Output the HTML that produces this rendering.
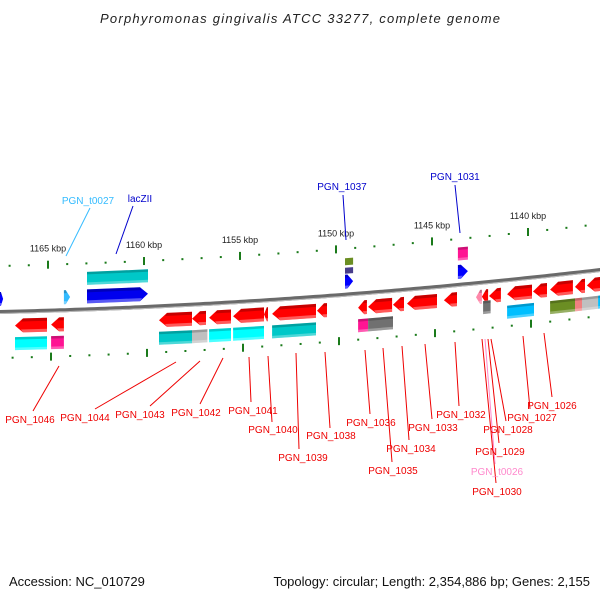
<!DOCTYPE html>
<html><head><meta charset="utf-8"><style>
html,body{margin:0;padding:0;background:#fff;}
svg{display:block;font-family:"Liberation Sans",sans-serif;}
</style></head><body>
<svg id="chart" width="600" height="600" viewBox="0 0 600 600">
<text x="300" y="23" text-anchor="middle" font-size="13" font-style="italic" fill="#222" textLength="400" lengthAdjust="spacing">Porphyromonas gingivalis ATCC 33277, complete genome</text>
<text x="9" y="586" font-size="13" fill="#111">Accession: NC_010729</text>
<text x="590" y="586" text-anchor="end" font-size="13" fill="#111">Topology: circular; Length: 2,354,886 bp; Genes: 2,155</text>
<g id="layer"></g>
</svg>
<script>
// axis ticks (kbp)
const majorTicks=[1165,1160,1155,1150,1145,1140];
const tickLabels=["1165 kbp","1160 kbp","1155 kbp","1150 kbp","1145 kbp","1140 kbp"];
// genes
const geneNames=["g_left","PGN_t0027","lacZII","PGN_1037","PGN_1031",
 "PGN_1046","PGN_1045","PGN_1044","PGN_1043","PGN_1042","PGN_1041","PGN_1040","PGN_1039","PGN_1038",
 "PGN_1036","PGN_1035","PGN_1034","PGN_1033","PGN_1032","PGN_t0026","PGN_1030","PGN_1029","PGN_1027","PGN_1026","g_r1","g_r2","g_r3"];
const geneStart=[1167.5,1164.17,1162.97,1149.53,1143.65,
 1166.72,1164.84,1159.22,1157.50,1156.61,1155.36,1153.75,1153.33,1150.99,
 1148.85,1148.33,1147.03,1146.30,1144.38,1142.71,1142.40,1142.03,1141.09,1139.74,1138.85,1137.55,1136.93];
const geneEnd=[1167.34,1163.85,1159.79,1149.11,1143.13,
 1165.05,1164.17,1157.50,1156.77,1155.47,1153.75,1153.54,1151.04,1150.47,
 1148.39,1147.08,1146.46,1144.74,1143.70,1142.40,1142.08,1141.41,1139.79,1139.01,1137.66,1137.03,1136.25];
const geneStrand=[1,1,1,1,1,-1,-1,-1,-1,-1,-1,-1,-1,-1,-1,-1,-1,-1,-1,-1,-1,-1,-1,-1,-1,-1,-1];
const geneColor=["#0000ff","#33bbff","#0000ee","#0000ff","#0000ff",
 "#ff0000","#ff0000","#ff0000","#ff0000","#ff0000","#ff0000","#ff0000","#ff0000","#ff0000",
 "#ff0000","#ff0000","#ff0000","#ff0000","#ff0000","#ff88aa","#ff0000","#ff0000","#ff0000","#ff0000","#ff0000","#ff0000","#ff0000"];
// COG boxes
const cogStart=[1162.97,1149.53,1149.53,1143.65,1166.72,1164.84,1159.22,1157.50,1156.61,1155.36,1153.33,1148.85,1148.33,1142.34,1141.09,1138.85,1137.55,1137.19,1136.35];
const cogEnd=[1159.79,1149.11,1149.11,1143.13,1165.05,1164.17,1157.50,1156.70,1155.47,1153.75,1151.04,1148.33,1147.03,1141.95,1139.69,1137.55,1137.19,1136.35,1136.0];
const cogRow=[-31,-24,-33,-31,32,32,32,32,32,32,32,32,32,25,32,32,32,32,32];
const cogH=[13,6,7,13,13,13,13,13,13,13,13,13,13,13,13,13,13,13,13];
const cogColor=["#00c8c8","#483d8b","#6b8e23","#ff1493","#00ffff","#ff1493","#00c8c8","#c0c0c0","#00ffff","#00ffff","#00c8c8","#ff1493","#707070","#707070","#00bfff","#6b8e23","#f08080","#c0c0c0","#00bfff"];
// labels
const labelText=["PGN_t0027","lacZII","PGN_1037","PGN_1031","PGN_1046","PGN_1044","PGN_1043","PGN_1042","PGN_1041","PGN_1040","PGN_1039","PGN_1038","PGN_1036","PGN_1035","PGN_1034","PGN_1033","PGN_1032","PGN_1030","PGN_t0026","PGN_1029","PGN_1028","PGN_1027","PGN_1026"];
const labelColor=["#33bbff","#0000cc","#0000cc","#0000cc","#ee0000","#ee0000","#ee0000","#ee0000","#ee0000","#ee0000","#ee0000","#ee0000","#ee0000","#ee0000","#ee0000","#ee0000","#ee0000","#ee0000","#ff88cc","#ee0000","#ee0000","#ee0000","#ee0000"];
const labelPos=[[88,204],[140,202],[342,190],[455,180],[30,423],[85,421],[140,418],[196,416],[253,414],[273,433],[303,461],[331,439],[371,426],[393,474],[411,452],[433,431],[461,418],[497,495],[497,475],[500,455],[508,433],[532,421],[552,409]];
const lineFrom=[[90,208],[133,206],[343,195],[455,185],[33,411],[95,409],[150,406],[200,404],[251,402],[272,422],[299,449],[330,428],[370,414],[392,462],[409,440],[432,419],[459,406],[496,483],[495,464],[499,443],[506,421],[530,409],[552,397]];
const lineTo=[[66,256],[116,254],[346,240],[460,233],[59,366],[176,362],[200,361],[223,358],[249,357],[268,356],[296,353],[325,352],[365,350],[383,348],[402,346],[425,344],[455,342],[482,339],[485,339],[488,339],[491,339],[523,336],[544,333]];

const NS="http://www.w3.org/2000/svg";
const layer=document.getElementById('layer');
function X(k){return 48+(1165-k)*19.2;}
function yb(x){const t=x/600;return (1-t)*(1-t)*312+2*t*(1-t)*305+t*t*270;}
function mk(tag,attrs){const e=document.createElementNS(NS,tag);for(const a in attrs)e.setAttribute(a,attrs[a]);layer.appendChild(e);return e;}
function P(x,o){return x.toFixed(1)+","+(yb(x)+o).toFixed(1);}

// backbone
let d="";for(let x=-5;x<=605;x+=5){d+=(x===-5?"M":"L")+x+","+yb(x).toFixed(1);}
let bb=mk('path',{d:d,stroke:'#6a6a6a','stroke-width':4,fill:'none'});


mk('path',{d:d,stroke:'#bbb','stroke-width':1,fill:'none',transform:'translate(0,1.5)'});

// ticks
for(let k=1136;k<=1168;k++){
  const major=majorTicks.indexOf(k)>=0;
  [[-46,0],[46,3]].forEach(([o,s])=>{
    const x=X(k)+s;if(x<2||x>598)return;
    const y=yb(x)+o;
    const t=mk('rect',{x:x-1,y:major?y-4:y-1,width:2,height:major?8:2,fill:'#1a7a1a'});
    
    
  });
}
majorTicks.forEach((k,i)=>{
  const x=X(k);
  const t=mk('text',{x:x,y:(yb(x)-59).toFixed(1),'text-anchor':'middle','font-size':9,fill:'#222'});
  t.textContent=tickLabels[i];
  
  
});

// genes
geneStart.forEach((s,i)=>{
  let x1=X(s),x2=X(geneEnd[i]);if(x1>x2){const t=x1;x1=x2;x2=t;}
  const o=geneStrand[i]>0?-13:14, h=14, top=o-h/2, bot=o+h/2;
  const hl=Math.min(8,(x2-x1)*0.7);
  let pts;
  if(geneStrand[i]>0) pts=[P(x1,top),P(x2-hl,top),P(x2,o),P(x2-hl,bot),P(x1,bot)];
  else pts=[P(x1,o),P(x1+hl,top),P(x2,top),P(x2,bot),P(x1+hl,bot)];
  const g=mk('polygon',{points:pts.join(' '),fill:geneColor[i]});
  
  
  const tp=geneStrand[i]>0?[P(x1,top),P(x2-hl,top),P(x2-hl*0.75,top+3),P(x1,top+3)]:[P(x1+hl*0.75,top+3),P(x1+hl,top),P(x2,top),P(x2,top+3)];
  mk('polygon',{points:tp.join(' '),fill:'#000','fill-opacity':0.22});
  const bp=geneStrand[i]>0?[P(x1,bot-3),P(x2-hl*0.75,bot-3),P(x2-hl,bot),P(x1,bot)]:[P(x1+hl*0.75,bot-3),P(x2,bot-3),P(x2,bot),P(x1+hl,bot)];
  mk('polygon',{points:bp.join(' '),fill:'#fff','fill-opacity':0.35});
});

// COG boxes
cogStart.forEach((s,i)=>{
  let x1=X(s),x2=X(cogEnd[i]);if(x1>x2){const t=x1;x1=x2;x2=t;}
  x2=Math.min(x2,601);
  const o=cogRow[i],h=cogH[i],top=o-h/2,bot=o+h/2;
  const b=mk('polygon',{points:[P(x1,top),P(x2,top),P(x2,bot),P(x1,bot)].join(' '),fill:cogColor[i]});
  
  
  if(h>8){
    mk('polygon',{points:[P(x1,top),P(x2,top),P(x2,top+2.5),P(x1,top+2.5)].join(' '),fill:'#000','fill-opacity':0.2});
    mk('polygon',{points:[P(x1,bot-2.5),P(x2,bot-2.5),P(x2,bot),P(x1,bot)].join(' '),fill:'#fff','fill-opacity':0.3});
  }
});

// labels
labelText.forEach((t,i)=>{
  const l=mk('line',{x1:lineFrom[i][0],y1:lineFrom[i][1],x2:lineTo[i][0],y2:lineTo[i][1],stroke:labelColor[i],'stroke-width':1});
  
  
  const tx=mk('text',{x:labelPos[i][0],y:labelPos[i][1],'text-anchor':'middle','font-size':10,fill:labelColor[i]});
  tx.textContent=t;
  
  
});
</script>
</body></html>
